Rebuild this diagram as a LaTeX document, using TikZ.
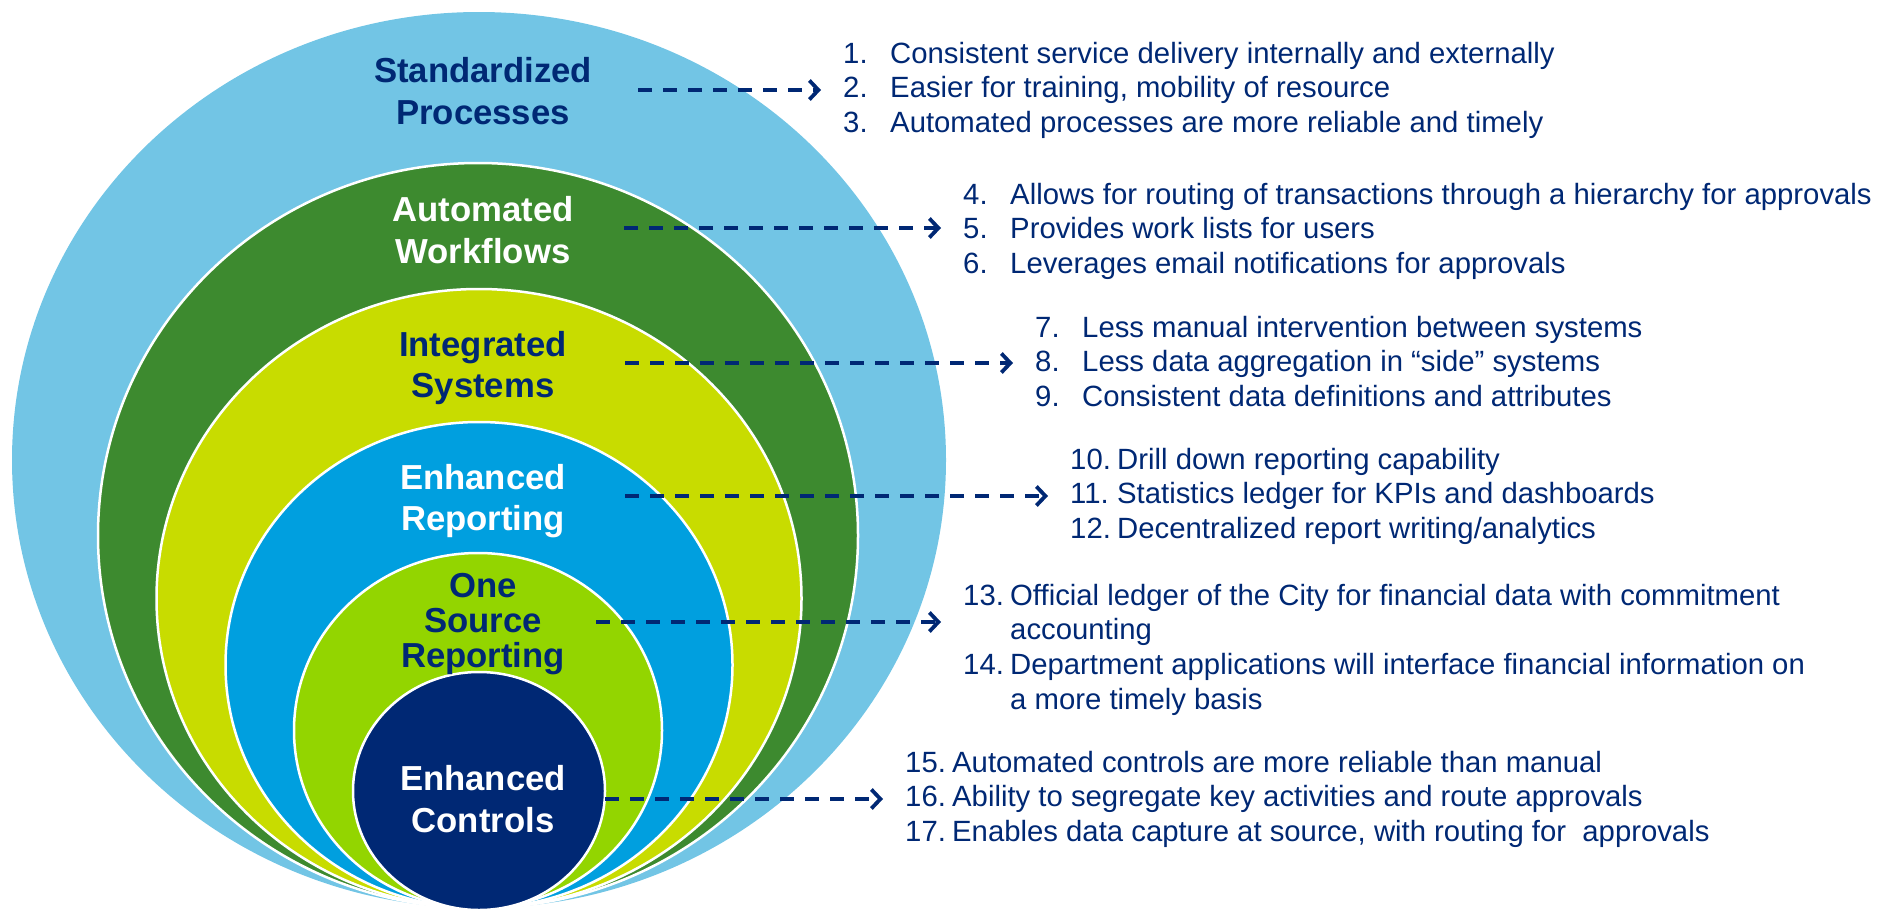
\documentclass[tikz,border=0pt]{standalone}
\usepackage{fontspec}
\setmainfont{Liberation Sans}
\usetikzlibrary{arrows.meta}
\definecolor{skyblue}{RGB}{114,197,229}
\definecolor{leafgreen}{RGB}{61,138,47}
\definecolor{yellowgreen}{RGB}{200,220,0}
\definecolor{oceanblue}{RGB}{0,159,223}
\definecolor{limegreen}{RGB}{147,213,0}
\definecolor{navy}{RGB}{0,40,116}
\newcommand{\lblfont}{\fontsize{34.7}{41.5}\selectfont\bfseries}
\newcommand{\txtfont}{\fontsize{29.3}{34.8}\selectfont}

\begin{document}
\begin{tikzpicture}[x=1pt,y=-1pt,
   ring/.style={draw=white,line width=2.5pt},
   lbl/.style={align=center,inner sep=0pt,font=\lblfont},
   lst/.style={anchor=base west,inner sep=0pt,text=navy,font=\txtfont},
   link/.style={draw=navy,line width=3.8pt,dash pattern=on 14pt off 11pt,
      -{Straight Barb[length=9pt,width=19pt]},shorten >=22pt}]
   \useasboundingbox (0,0) rectangle (1894,913);
   % nested rings, all touching at the bottom
   \fill[skyblue] (479,460) ellipse [x radius=467,y radius=448];
   \filldraw[ring,fill=leafgreen] (478,535.5) ellipse [x radius=380,y radius=372.5];
   \filldraw[ring,fill=yellowgreen] (479,598.5) ellipse [x radius=322.5,y radius=309.5];
   \filldraw[ring,fill=oceanblue] (479,665) ellipse [x radius=253.5,y radius=243];
   \filldraw[ring,fill=limegreen] (478,730.5) ellipse [x radius=184,y radius=177.5];
   \filldraw[ring,fill=navy] (479,791) ellipse [x radius=126,y radius=119];
   % ring labels
   \node[lbl,text=navy] (std) at (483,91) {Standardized\\Processes};
   \node[lbl,text=white] (auto) at (483,230) {Automated\\Workflows};
   \node[lbl,text=navy] (integ) at (483,368) {Integrated\\Systems};
   \node[lbl,text=white] (rep) at (483,501) {Enhanced\\Reporting};
   \node[lbl,text=navy,font=\fontsize{34.7}{35}\selectfont\bfseries] (src) at (483,624) {One\\Source\\Reporting};
   \node[lbl,text=white] (ctrl) at (483,799) {Enhanced\\Controls};
   % benefit lists
   \node[lst] (l1) at (843,63) {\begin{tabular}[t]{@{}p{47pt}@{}l@{}}
      1. & Consistent service delivery internally and externally\\
      2. & Easier for training, mobility of resource\\
      3. & Automated processes are more reliable and timely
      \end{tabular}};
   \node[lst] (l2) at (963,204) {\begin{tabular}[t]{@{}p{47pt}@{}l@{}}
      4. & Allows for routing of transactions through a hierarchy for approvals\\
      5. & Provides work lists for users\\
      6. & Leverages email notifications for approvals
      \end{tabular}};
   \node[lst] (l3) at (1035,337) {\begin{tabular}[t]{@{}p{47pt}@{}l@{}}
      7. & Less manual intervention between systems\\
      8. & Less data aggregation in “side” systems\\
      9. & Consistent data definitions and attributes
      \end{tabular}};
   \node[lst] (l4) at (1070,469) {\begin{tabular}[t]{@{}p{47pt}@{}l@{}}
      10. & Drill down reporting capability\\
      11. & Statistics ledger for KPIs and dashboards\\
      12. & Decentralized report writing/analytics
      \end{tabular}};
   \node[lst] (l5) at (963,605) {\begin{tabular}[t]{@{}p{47pt}@{}l@{}}
      13. & Official ledger of the City for financial data with commitment\\
          & accounting\\
      14. & Department applications will interface financial information on\\
          & a more timely basis
      \end{tabular}};
   \node[lst] (l6) at (905,772) {\begin{tabular}[t]{@{}p{47pt}@{}l@{}}
      15. & Automated controls are more reliable than manual\\
      16. & Ability to segregate key activities and route approvals\\
      17. & Enables data capture at source, with routing for~ approvals
      \end{tabular}};
   % dashed links
   \coordinate (s1) at (638,90);
   \coordinate (s2) at (624,228);
   \coordinate (s3) at (625,363);
   \coordinate (s4) at (625,496);
   \coordinate (s5) at (596,622);
   \coordinate (s6) at (605,799);
   \draw[link] (s1) -- (s1 -| l1.west);
   \draw[link] (s2) -- (s2 -| l2.west);
   \draw[link] (s3) -- (s3 -| l3.west);
   \draw[link] (s4) -- (s4 -| l4.west);
   \draw[link] (s5) -- (s5 -| l5.west);
   \draw[link] (s6) -- (s6 -| l6.west);
\end{tikzpicture}
\end{document}
